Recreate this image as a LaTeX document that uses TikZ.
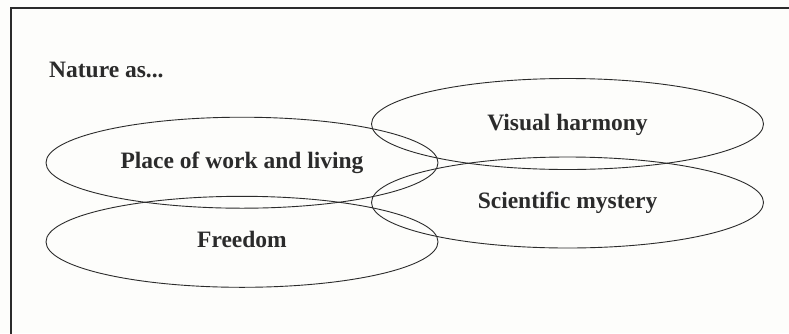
\documentclass[tikz,border=0pt]{standalone}
\usepackage{fontspec}
\setmainfont{Liberation Serif}
\usetikzlibrary{shapes.geometric}
\definecolor{ink}{HTML}{2B2B2B}
\definecolor{paper}{HTML}{FDFDFB}
\begin{document}
\begin{tikzpicture}[x=1pt,y=-1pt,
  lbl/.style={font=\fontsize{23.5}{28}\selectfont\bfseries, text=ink},
  oval/.style={ellipse, draw=ink, line width=0.9pt, minimum width=392pt,
    minimum height=91pt, inner sep=0pt, lbl, text height=12pt, text depth=0pt},
  frame/.style={draw=ink, line width=2.2pt}]
  % page and the open frame along the top and left
  \fill[paper] (0,0) rectangle (789,333);
  \useasboundingbox (0,0) rectangle (789,333);
  \begin{scope}
    \clip (0,0) rectangle (789,333);
    \draw[frame] (11,345) -- (11,8) -- (800,8);
  \end{scope}
  % heading
  \node[lbl, anchor=base west, inner sep=0pt] (title) at (49,77.7) {Nature as...};
  % overlapping ovals
  \node[oval] (work)    at (242,162.7)   {Place of work and living};
  \node[oval] (freedom) at (242,241.8)   {Freedom};
  \node[oval] (harmony) at (567.5,124)   {Visual harmony};
  \node[oval] (mystery) at (567.5,202.5) {Scientific mystery};
\end{tikzpicture}
\end{document}
